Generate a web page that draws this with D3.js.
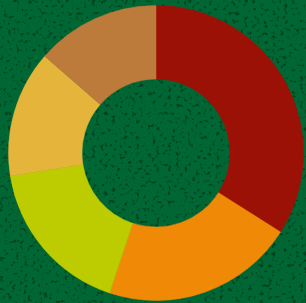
<!DOCTYPE html>
<html>
<head>
<meta charset="utf-8">
<script src="https://cdn.jsdelivr.net/npm/d3@7"></script>
<style>
  html, body { margin: 0; padding: 0; background: #006633; overflow: hidden; }
</style>
</head>
<body>
<svg id="chart" width="306" height="303"></svg>
<script>
// slice data, clockwise from 12 o'clock
const categories = ["A", "B", "C", "D", "E"];
const values     = [34, 21.1, 17.4, 13.9, 13.6];
const colors     = ["#9c1106", "#f08a06", "#bdcc00", "#e5b43b", "#bd7b3b"];

const width = 306, height = 303;
const cx = 156, cy = 153;
const outerR = 147.5, innerR = 74;

const svg = d3.select("#chart");

// textured green background (sparse dark specks)
const defs = svg.append("defs");
const filt = defs.append("filter").attr("id", "grain")
  .attr("color-interpolation-filters", "sRGB")
  .attr("x", 0).attr("y", 0).attr("width", "100%").attr("height", "100%");
filt.append("feTurbulence")
  .attr("type", "fractalNoise")
  .attr("baseFrequency", 0.25)
  .attr("numOctaves", 3)
  .attr("seed", 7)
  .attr("result", "noise");
filt.append("feColorMatrix")
  .attr("in", "noise")
  .attr("type", "matrix")
  .attr("values", "0 0 0 0 0  0 0 0 0 0.17  0 0 0 0 0.08  0 0 0 -6 2.45")
  .attr("result", "specks");
filt.append("feComposite").attr("in", "specks").attr("in2", "SourceGraphic").attr("operator", "in");

svg.append("rect").attr("width", width).attr("height", height).attr("fill", "#006633");
svg.append("rect").attr("width", width).attr("height", height).attr("fill", "#006633")
  .attr("filter", "url(#grain)").attr("opacity", 0.6);

const pie = d3.pie().sort(null).value(d => d.value);
const arc = d3.arc().innerRadius(innerR).outerRadius(outerR);

const data = categories.map((c, i) => ({ name: c, value: values[i], color: colors[i] }));

svg.append("g")
  .attr("transform", `translate(${cx},${cy})`)
  .selectAll("path")
  .data(pie(data))
  .join("path")
    .attr("d", arc)
    .attr("fill", d => d.data.color)
    .attr("stroke", d => d.data.color)
    .attr("stroke-width", 0.5);
</script>
</body>
</html>
